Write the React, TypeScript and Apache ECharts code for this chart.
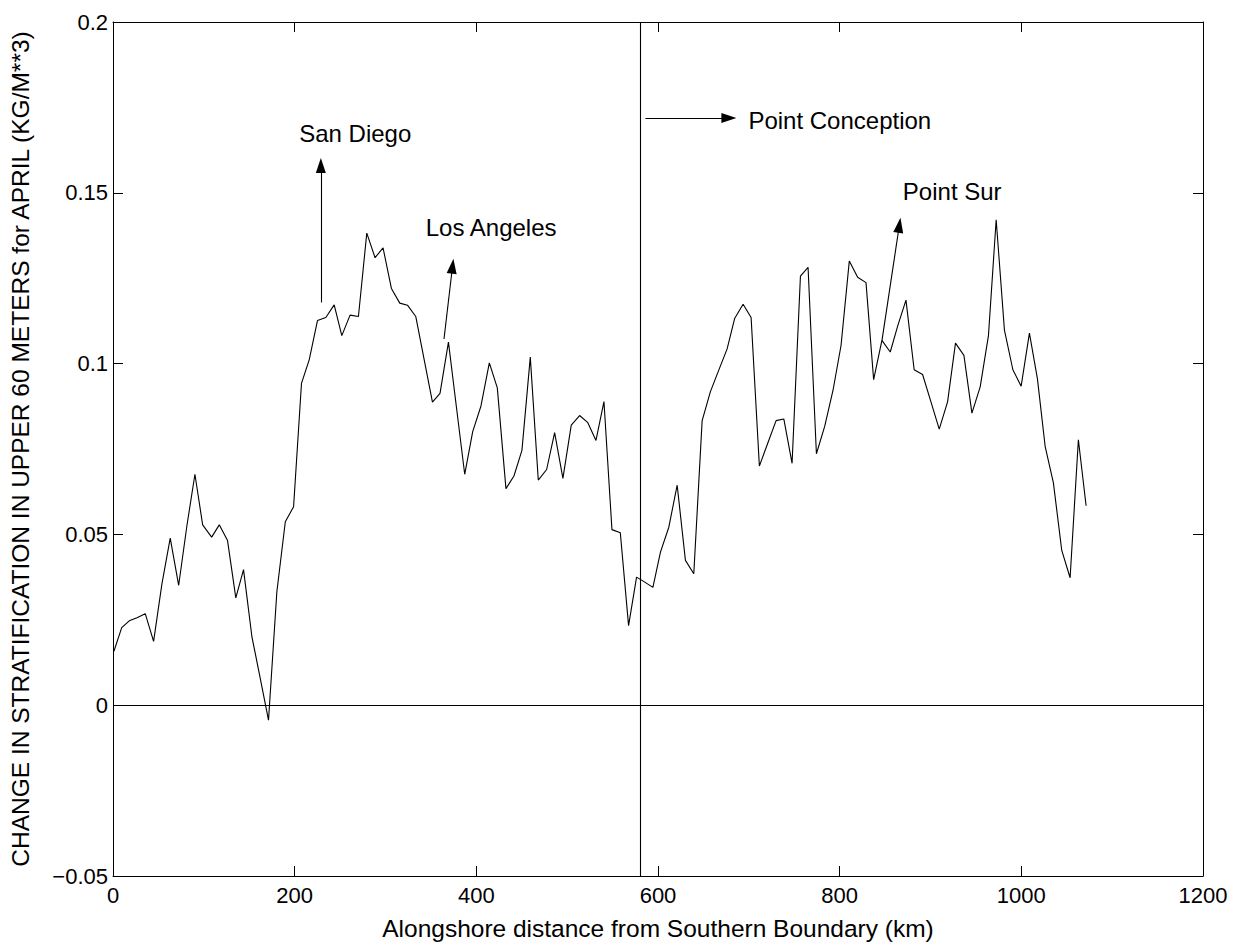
import React, { useEffect, useRef } from "react";
import * as echarts from "echarts";

const distanceKm = [
  1, 9.6, 17.9, 26.4, 35.5, 44.7, 53.9, 63.0, 72.3, 81.4, 90.2, 98.7, 108.6, 117.0, 126.1, 135.2, 143.7, 152.9, 162.0, 171.2,
  180.4, 189.7, 198.8, 207.5, 216.0, 225.1, 234.3, 243.5, 251.9, 261.0, 270.2, 279.4, 288.5, 297.3, 306.5, 315.7, 324.2, 333.3, 342.4, 351.7,
  360.0, 369.3, 378.2, 387.2, 396.0, 405.1, 414.3, 423.1, 432.6, 441.4, 450.2, 459.4, 468.2, 477.4, 486.2, 495.3, 504.5, 513.7, 522.5, 531.7,
  540.5, 549.3, 558.5, 567.6, 576.4, 585.0, 594.4, 602.7, 611.9, 621.1, 630.2, 639.4, 648.6, 657.7, 666.9, 676.1, 684.5, 693.7, 702.5, 711.6,
  720.8, 730.0, 738.5, 747.6, 756.8, 765.2, 774.4, 783.5, 792.7, 801.5, 810.6, 819.8, 829.0, 837.4, 846.5, 855.7, 864.0, 873.0, 882.0, 891.3,
  900.5, 909.6, 918.8, 927.5, 936.8, 945.6, 954.7, 963.8, 972.3, 981.4, 990.7, 999.8, 1008.9, 1017.7, 1026.2, 1035.3, 1044.5, 1053.7, 1062.8, 1071.3,
];

const stratChange = [
  0.0158, 0.0227, 0.0247, 0.0256, 0.0268, 0.0187, 0.0356, 0.0489, 0.0351, 0.0526, 0.0676, 0.0528, 0.0492, 0.0528, 0.0482, 0.0314, 0.0397, 0.0201, 0.008, -0.0044,
  0.0332, 0.0537, 0.0581, 0.0942, 0.1011, 0.1126, 0.1135, 0.1172, 0.1082, 0.1142, 0.1138, 0.1382, 0.131, 0.1339, 0.122, 0.1177, 0.1171, 0.1138, 0.1014, 0.0887,
  0.0913, 0.1063, 0.087, 0.0676, 0.0801, 0.0876, 0.1002, 0.0929, 0.0634, 0.0671, 0.0746, 0.1019, 0.0659, 0.069, 0.0798, 0.0664, 0.082, 0.0848, 0.0828, 0.0775,
  0.0889, 0.0514, 0.0505, 0.0233, 0.0375, 0.0361, 0.0345, 0.0448, 0.0521, 0.0644, 0.0424, 0.0385, 0.0833, 0.0918, 0.0981, 0.1043, 0.1133, 0.1174, 0.1135, 0.07,
  0.0767, 0.0833, 0.0838, 0.0708, 0.1256, 0.1282, 0.0736, 0.0816, 0.0922, 0.1053, 0.13, 0.1253, 0.1237, 0.0953, 0.1068, 0.1034, 0.1111, 0.1186, 0.0982, 0.0968,
  0.0888, 0.0808, 0.0888, 0.106, 0.1024, 0.0855, 0.0932, 0.1082, 0.1421, 0.1098, 0.0982, 0.0934, 0.1089, 0.0956, 0.0758, 0.0651, 0.0453, 0.0373, 0.0777, 0.0584,
];

const xTicks = { min: 0, max: 1200, interval: 200 };
const yTicks = { min: -0.05, max: 0.2, interval: 0.05 };
const pointConceptionKm = 580;

const placeNames = ["San Diego", "Los Angeles", "Point Sur", "Point Conception"];
const arrowStarts: [number, number][] = [[228.8, 0.1179], [364.4, 0.1072], [846.6, 0.1068], [586.2, 0.1719]];
const arrowEnds: [number, number][] = [[228.8, 0.158], [373.8, 0.1285], [865.7, 0.1405], [678.0, 0.1719]];
const labelAnchors: [number, number][] = [[266.7, 0.1675], [416.3, 0.1397], [923.9, 0.1503], [699.5, 0.1713]];

const FONT = "'Liberation Sans', Arial, Helvetica, sans-serif";

function fmtY(v: number) {
  const r = Math.round(v * 100) / 100;
  if (r === 0) return "0";
  const s = String(r);
  return r < 0 ? "\u2212" + s.slice(1) : s;
}

function fmtX(v: number) {
  return String(Math.round(v));
}

export default function App() {
  const ref = useRef<HTMLDivElement>(null);
  useEffect(() => {
    if (!ref.current) return;
    const chart = echarts.init(ref.current, undefined, { renderer: "svg" });
    const black = "#000";
    const tickStyle = { show: true, inside: true, length: 10, lineStyle: { color: black, width: 1 } };
    const axisLine = { show: true, onZero: false, lineStyle: { color: black, width: 1 } };
    const data = distanceKm.map((x, i) => [x, stratChange[i]]);

    const arrowLines = placeNames.map((n, i) => [
      { coord: arrowStarts[i], symbol: "none" },
      { coord: arrowEnds[i], symbol: "triangle", symbolSize: [10, 15] },
    ]);

    chart.setOption({
      animation: false,
      backgroundColor: "#fff",
      textStyle: { fontFamily: FONT },
      grid: { left: 112, right: 30, top: 22, bottom: 63 },
      xAxis: [
        {
          type: "value",
          position: "bottom",
          ...xTicks,
          name: "Alongshore distance from Southern Boundary (km)",
          nameLocation: "middle",
          nameGap: 40,
          nameTextStyle: { color: black, fontSize: 24.5, fontFamily: FONT },
          axisLine,
          axisTick: tickStyle,
          axisLabel: { color: black, fontSize: 22, margin: 8, fontFamily: FONT, formatter: fmtX },
          splitLine: { show: false },
        },
        {
          type: "value",
          position: "top",
          ...xTicks,
          axisLine,
          axisTick: tickStyle,
          axisLabel: { show: false },
          splitLine: { show: false },
        },
      ],
      yAxis: [
        {
          type: "value",
          position: "left",
          ...yTicks,
          name: "CHANGE IN STRATIFICATION IN UPPER 60 METERS for APRIL (KG/M**3)",
          nameLocation: "middle",
          nameGap: 80,
          nameRotate: 90,
          nameTextStyle: { color: black, fontSize: 24.5, fontFamily: FONT },
          axisLine,
          axisTick: tickStyle,
          axisLabel: { color: black, fontSize: 22, margin: 5, fontFamily: FONT, formatter: fmtY },
          splitLine: { show: false },
        },
        {
          type: "value",
          position: "right",
          ...yTicks,
          axisLine,
          axisTick: tickStyle,
          axisLabel: { show: false },
          splitLine: { show: false },
        },
      ],
      series: [
        {
          type: "line",
          data,
          showSymbol: false,
          symbol: "none",
          lineStyle: { color: black, width: 1.1 },
          silent: true,
          markLine: {
            silent: true,
            symbol: "none",
            label: { show: false },
            lineStyle: { color: black, width: 1.1, type: "solid" },
            data: [
              { yAxis: 0 },
              { xAxis: pointConceptionKm },
              ...arrowLines,
            ],
          },
          markPoint: {
            silent: true,
            data: placeNames.map((n, i) => ({
              coord: labelAnchors[i],
              symbol: "circle",
              symbolSize: 0,
              itemStyle: { color: "transparent" },
              label: {
                show: true,
                formatter: n,
                position: i === 3 ? "right" : "inside",
                distance: 0,
                color: black,
                fontSize: 24,
                fontFamily: FONT,
              },
            })),
          },
        },
      ],
    });
    return () => chart.dispose();
  }, []);
  return (
    <div
      ref={ref}
      style={{ position: "fixed", left: 0, top: 0, width: 1233, height: 946, background: "#fff" }}
    />
  );
}
